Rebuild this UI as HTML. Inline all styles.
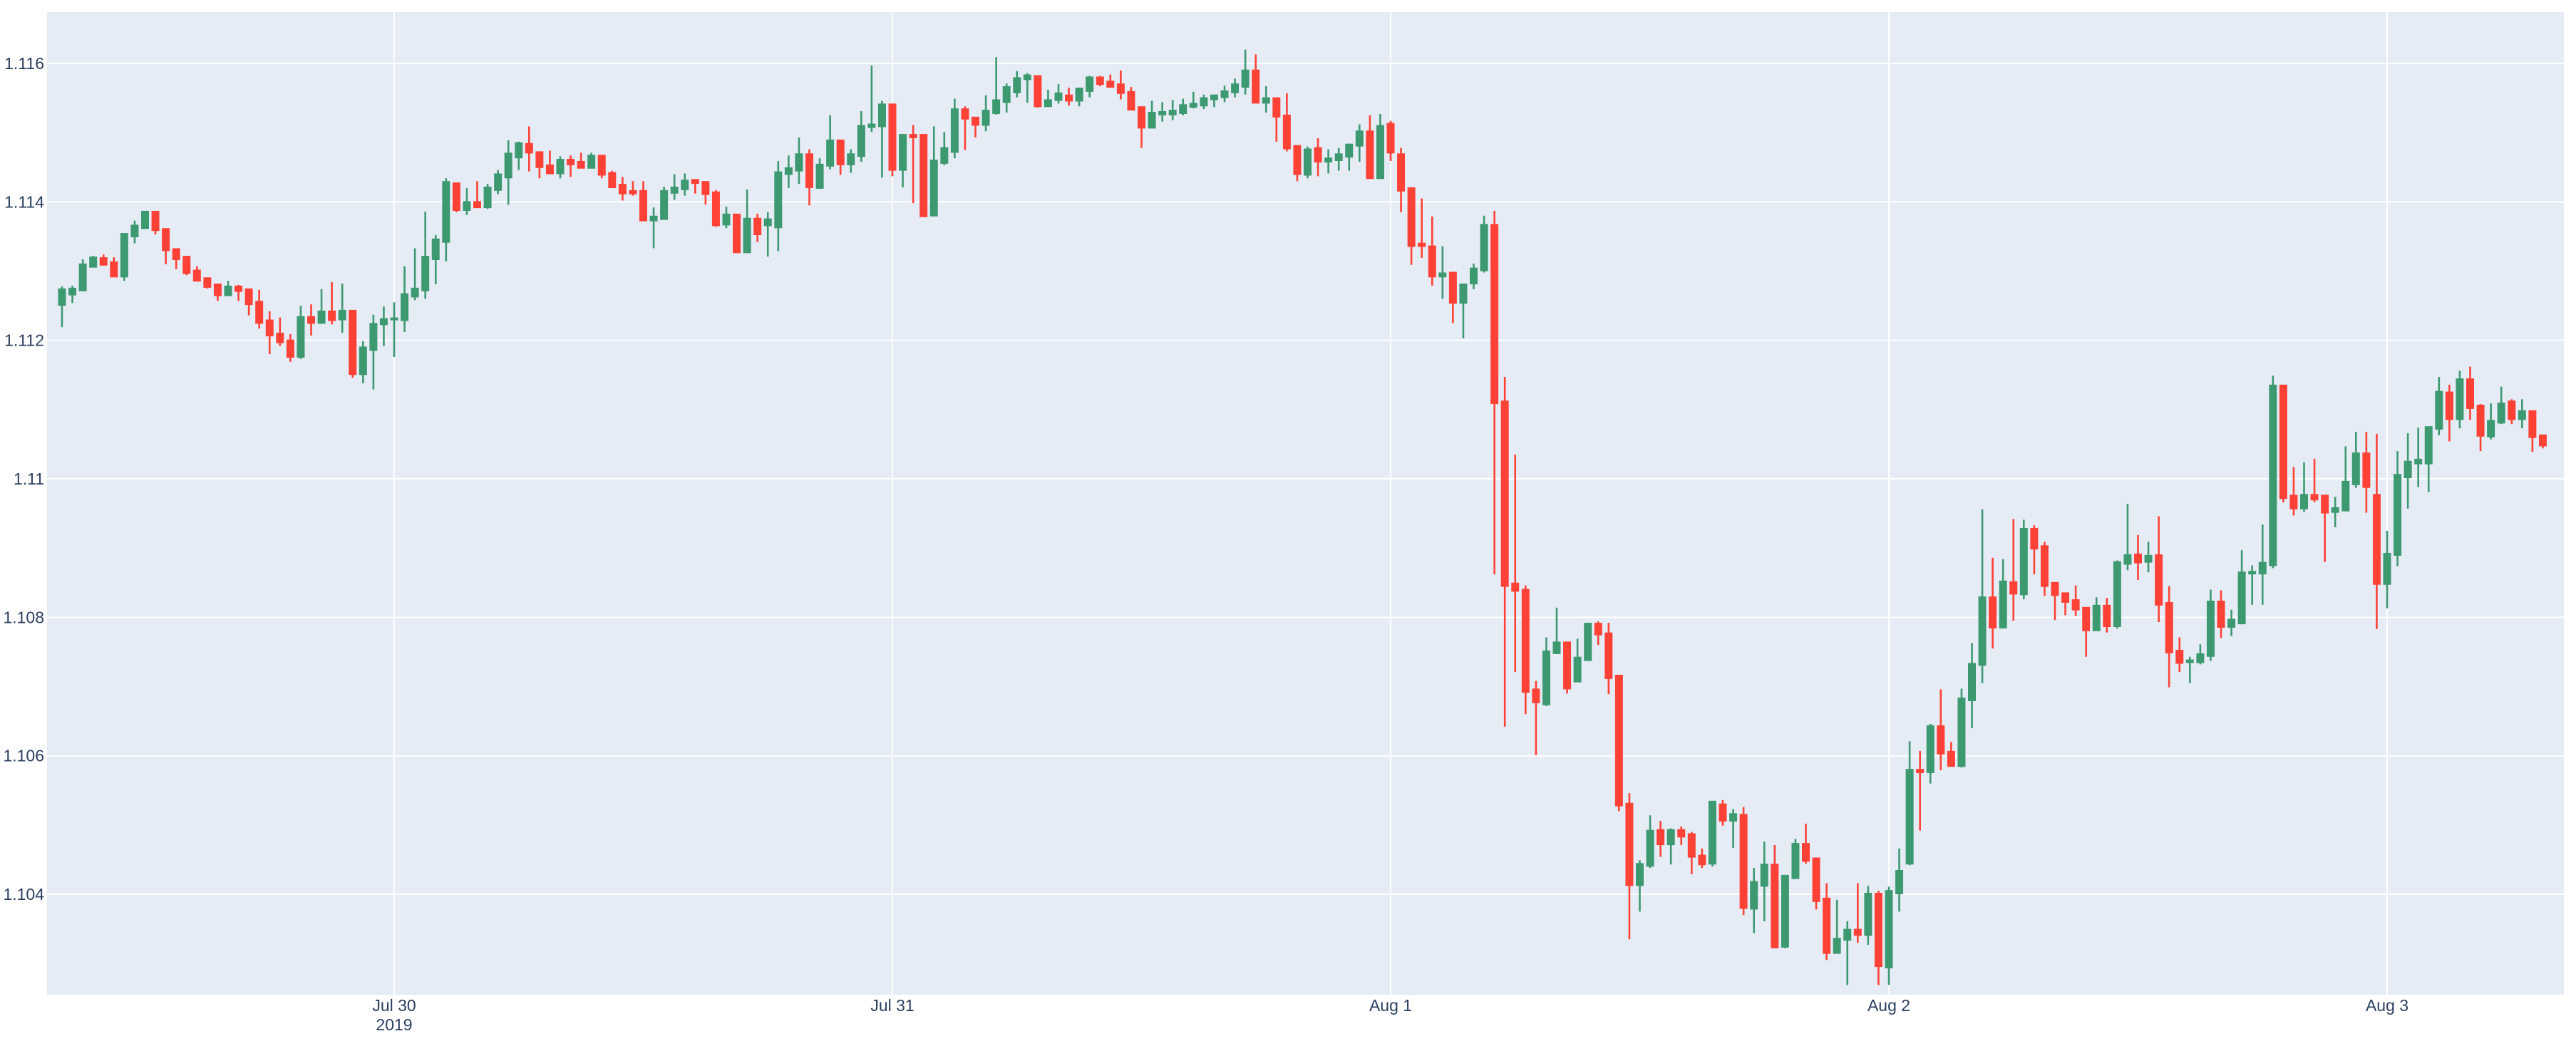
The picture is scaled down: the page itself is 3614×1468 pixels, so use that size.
<!DOCTYPE html>
<html>
<head>
<meta charset="utf-8">
<style>
  html, body { margin: 0; padding: 0; background: #ffffff; }
  svg { display: block; }
  text { font-family: "Liberation Sans", "DejaVu Sans", sans-serif; fill: #2a3f5f; }
</style>
</head>
<body>
<svg id="chart" width="3614" height="1468" viewBox="0 0 3614 1468" xmlns="http://www.w3.org/2000/svg">
  <rect x="66" y="17" width="3531" height="1379" fill="#E5ECF6"/>
  <g id="grid"></g>
  <g id="candles"></g>
  <g id="yaxis"></g>
  <g id="xaxis"></g>
</svg>
<script>
const startTime = Date.UTC(2019, 6, 29, 8, 0);
const stepMinutes = 30;
const openPrices = [
1.11251,1.11266,1.11272,1.11306,1.11319,1.11313,1.11292,1.11350,1.11362,1.11386,
1.11361,1.11332,1.11321,1.11301,1.11290,1.11281,1.11265,1.11278,1.11274,1.11256,
1.11229,1.11210,1.11200,1.11176,1.11234,1.11225,1.11242,1.11230,1.11243,1.11151,
1.11186,1.11223,1.11230,1.11229,1.11263,1.11272,1.11317,1.11342,1.11427,1.11388,
1.11400,1.11392,1.11417,1.11435,1.11464,1.11484,1.11472,1.11453,1.11441,1.11461,
1.11458,1.11449,1.11467,1.11442,1.11425,1.11416,1.11416,1.11373,1.11375,1.11413,
1.11418,1.11432,1.11429,1.11414,1.11367,1.11382,1.11327,1.11376,1.11366,1.11363,
1.11440,1.11445,1.11469,1.11420,1.11452,1.11489,1.11454,1.11466,1.11508,1.11509,
1.11541,1.11446,1.11497,1.11497,1.11380,1.11456,1.11472,1.11534,1.11522,1.11511,
1.11528,1.11544,1.11558,1.11577,1.11582,1.11538,1.11547,1.11554,1.11546,1.11560,
1.11580,1.11574,1.11570,1.11559,1.11537,1.11507,1.11526,1.11526,1.11528,1.11537,
1.11539,1.11548,1.11551,1.11558,1.11566,1.11590,1.11543,1.11550,1.11525,1.11481,
1.11439,1.11478,1.11458,1.11460,1.11465,1.11481,1.11502,1.11434,1.11513,1.11469,
1.11420,1.11340,1.11336,1.11292,1.11298,1.11254,1.11282,1.11301,1.11367,1.11112,
1.10849,1.10840,1.10696,1.10674,1.10748,1.10764,1.10707,1.10738,1.10791,1.10777,
1.10716,1.10531,1.10413,1.10441,1.10493,1.10472,1.10493,1.10487,1.10456,1.10444,
1.10530,1.10506,1.10515,1.10379,1.10412,1.10443,1.10324,1.10423,1.10473,1.10452,
1.10394,1.10315,1.10334,1.10349,1.10341,1.10401,1.10294,1.10401,1.10444,1.10580,
1.10576,1.10643,1.10606,1.10585,1.10680,1.10731,1.10829,1.10785,1.10851,1.10833,
1.10928,1.10903,1.10850,1.10835,1.10825,1.10814,1.10781,1.10817,1.10787,1.10877,
1.10891,1.10880,1.10890,1.10821,1.10752,1.10735,1.10735,1.10744,1.10823,1.10786,
1.10791,1.10863,1.10863,1.10875,1.11135,1.10976,1.10957,1.10977,1.10976,1.10952,
1.10954,1.10992,1.11037,1.10977,1.10848,1.10890,1.11002,1.11022,1.11022,1.11072,
1.11125,1.11086,1.11144,1.11106,1.11061,1.11081,1.11112,1.11086,1.11098,1.11063
];
const highPrices = [
1.11278,1.11279,1.11317,1.11322,1.11324,1.11320,1.11354,1.11373,1.11387,1.11387,
1.11361,1.11332,1.11322,1.11307,1.11290,1.11281,1.11286,1.11280,1.11274,1.11273,
1.11242,1.11233,1.11209,1.11250,1.11252,1.11274,1.11284,1.11282,1.11243,1.11199,
1.11237,1.11249,1.11255,1.11307,1.11333,1.11386,1.11352,1.11434,1.11428,1.11420,
1.11430,1.11426,1.11446,1.11489,1.11487,1.11509,1.11472,1.11474,1.11466,1.11467,
1.11471,1.11471,1.11467,1.11445,1.11436,1.11430,1.11430,1.11392,1.11422,1.11440,
1.11441,1.11432,1.11429,1.11417,1.11393,1.11382,1.11418,1.11383,1.11385,1.11459,
1.11467,1.11493,1.11476,1.11463,1.11525,1.11490,1.11476,1.11531,1.11597,1.11546,
1.11541,1.11497,1.11511,1.11498,1.11509,1.11501,1.11549,1.11538,1.11522,1.11554,
1.11609,1.11571,1.11589,1.11586,1.11582,1.11562,1.11570,1.11565,1.11564,1.11582,
1.11582,1.11584,1.11590,1.11566,1.11538,1.11546,1.11544,1.11547,1.11549,1.11559,
1.11555,1.11555,1.11568,1.11578,1.11620,1.11613,1.11567,1.11550,1.11557,1.11481,
1.11480,1.11492,1.11476,1.11478,1.11484,1.11512,1.11525,1.11527,1.11517,1.11478,
1.11420,1.11405,1.11379,1.11336,1.11298,1.11281,1.11311,1.11380,1.11387,1.11147,
1.11035,1.10846,1.10708,1.10771,1.10814,1.10764,1.10769,1.10791,1.10794,1.10792,
1.10717,1.10546,1.10449,1.10514,1.10506,1.10495,1.10498,1.10490,1.10466,1.10534,
1.10536,1.10523,1.10526,1.10438,1.10476,1.10471,1.10428,1.10480,1.10502,1.10453,
1.10416,1.10392,1.10361,1.10416,1.10412,1.10405,1.10411,1.10466,1.10621,1.10607,
1.10646,1.10696,1.10620,1.10697,1.10763,1.10956,1.10886,1.10884,1.10942,1.10941,
1.10933,1.10909,1.10850,1.10835,1.10846,1.10814,1.10829,1.10828,1.10882,1.10964,
1.10919,1.10909,1.10946,1.10845,1.10771,1.10743,1.10761,1.10840,1.10839,1.10811,
1.10897,1.10875,1.10934,1.11149,1.11135,1.11017,1.11024,1.11029,1.10977,1.10974,
1.11047,1.11068,1.11068,1.11065,1.10925,1.11040,1.11066,1.11074,1.11075,1.11147,
1.11136,1.11156,1.11162,1.11108,1.11109,1.11133,1.11115,1.11115,1.11098,1.11063
];
const lowPrices = [
1.11219,1.11254,1.11272,1.11306,1.11309,1.11292,1.11286,1.11340,1.11362,1.11353,
1.11310,1.11303,1.11294,1.11285,1.11275,1.11257,1.11265,1.11257,1.11236,1.11217,
1.11180,1.11192,1.11169,1.11173,1.11207,1.11225,1.11223,1.11211,1.11146,1.11138,
1.11129,1.11192,1.11176,1.11212,1.11258,1.11260,1.11281,1.11314,1.11385,1.11381,
1.11392,1.11390,1.11411,1.11396,1.11446,1.11444,1.11434,1.11441,1.11434,1.11436,
1.11449,1.11449,1.11434,1.11421,1.11402,1.11409,1.11373,1.11333,1.11375,1.11403,
1.11409,1.11412,1.11396,1.11364,1.11362,1.11327,1.11327,1.11342,1.11321,1.11329,
1.11420,1.11426,1.11395,1.11420,1.11447,1.11439,1.11442,1.11458,1.11501,1.11435,
1.11437,1.11421,1.11398,1.11379,1.11380,1.11453,1.11463,1.11475,1.11493,1.11502,
1.11526,1.11529,1.11551,1.11543,1.11536,1.11538,1.11542,1.11539,1.11538,1.11551,
1.11567,1.11566,1.11548,1.11533,1.11478,1.11507,1.11516,1.11518,1.11525,1.11535,
1.11534,1.11537,1.11544,1.11551,1.11555,1.11543,1.11529,1.11487,1.11473,1.11430,
1.11434,1.11437,1.11441,1.11445,1.11445,1.11458,1.11434,1.11434,1.11459,1.11385,
1.11309,1.11319,1.11279,1.11260,1.11225,1.11203,1.11274,1.11298,1.10862,1.10642,
1.10721,1.10660,1.10601,1.10672,1.10748,1.10690,1.10707,1.10738,1.10760,1.10689,
1.10520,1.10335,1.10375,1.10438,1.10454,1.10443,1.10471,1.10429,1.10438,1.10440,
1.10499,1.10467,1.10370,1.10344,1.10361,1.10323,1.10322,1.10423,1.10444,1.10378,
1.10305,1.10315,1.10269,1.10330,1.10327,1.10269,1.10269,1.10375,1.10442,1.10492,
1.10560,1.10579,1.10585,1.10583,1.10640,1.10705,1.10755,1.10785,1.10795,1.10826,
1.10862,1.10831,1.10796,1.10803,1.10802,1.10743,1.10781,1.10778,1.10784,1.10868,
1.10854,1.10865,1.10793,1.10699,1.10721,1.10705,1.10732,1.10737,1.10770,1.10773,
1.10790,1.10818,1.10818,1.10871,1.10966,1.10947,1.10952,1.10966,1.10880,1.10930,
1.10954,1.10987,1.10951,1.10783,1.10813,1.10874,1.10957,1.10988,1.10981,1.11063,
1.11054,1.11073,1.11085,1.11040,1.11057,1.11079,1.11079,1.11073,1.11039,1.11044
];
const closePrices = [
1.11274,1.11275,1.11310,1.11320,1.11309,1.11292,1.11354,1.11366,1.11386,1.11359,
1.11330,1.11317,1.11297,1.11286,1.11277,1.11265,1.11278,1.11271,1.11252,1.11225,
1.11207,1.11197,1.11176,1.11234,1.11225,1.11242,1.11229,1.11243,1.11151,1.11190,
1.11224,1.11231,1.11232,1.11267,1.11275,1.11321,1.11346,1.11429,1.11388,1.11400,
1.11392,1.11421,1.11440,1.11470,1.11485,1.11471,1.11450,1.11441,1.11461,1.11454,
1.11449,1.11467,1.11439,1.11421,1.11412,1.11412,1.11373,1.11379,1.11416,1.11421,
1.11431,1.11427,1.11411,1.11366,1.11382,1.11327,1.11376,1.11353,1.11375,1.11443,
1.11449,1.11469,1.11421,1.11454,1.11489,1.11454,1.11469,1.11510,1.11512,1.11541,
1.11446,1.11497,1.11493,1.11379,1.11460,1.11478,1.11534,1.11520,1.11511,1.11532,
1.11547,1.11566,1.11579,1.11583,1.11538,1.11547,1.11557,1.11546,1.11564,1.11580,
1.11570,1.11566,1.11557,1.11533,1.11507,1.11529,1.11530,1.11532,1.11540,1.11542,
1.11550,1.11554,1.11560,1.11570,1.11590,1.11543,1.11550,1.11523,1.11477,1.11440,
1.11476,1.11458,1.11463,1.11469,1.11483,1.11502,1.11434,1.11510,1.11471,1.11416,
1.11336,1.11336,1.11292,1.11297,1.11254,1.11281,1.11304,1.11367,1.11109,1.10845,
1.10838,1.10692,1.10677,1.10751,1.10764,1.10697,1.10742,1.10791,1.10775,1.10712,
1.10528,1.10413,1.10444,1.10492,1.10472,1.10493,1.10483,1.10454,1.10443,1.10534,
1.10506,1.10516,1.10380,1.10418,1.10443,1.10323,1.10427,1.10473,1.10448,1.10390,
1.10315,1.10336,1.10349,1.10341,1.10401,1.10296,1.10405,1.10434,1.10580,1.10576,
1.10643,1.10603,1.10585,1.10683,1.10733,1.10829,1.10785,1.10852,1.10834,1.10928,
1.10899,1.10845,1.10832,1.10822,1.10811,1.10781,1.10817,1.10787,1.10880,1.10890,
1.10879,1.10889,1.10818,1.10749,1.10734,1.10738,1.10747,1.10823,1.10786,1.10797,
1.10865,1.10866,1.10879,1.11135,1.10972,1.10957,1.10977,1.10970,1.10951,1.10958,
1.10996,1.11037,1.10988,1.10848,1.10892,1.11006,1.11025,1.11028,1.11075,1.11126,
1.11086,1.11144,1.11102,1.11062,1.11084,1.11109,1.11086,1.11098,1.11060,1.11048
];
const yTickValues = [1.104, 1.106, 1.108, 1.110, 1.112, 1.114, 1.116];
const yTickLabels = ["1.104", "1.106", "1.108", "1.11", "1.108".replace("1.108","1.112"), "1.114", "1.116"];
const xTickDates = [Date.UTC(2019,6,30), Date.UTC(2019,6,31), Date.UTC(2019,7,1), Date.UTC(2019,7,2), Date.UTC(2019,7,3)];
const xTickLabels = ["Jul 30", "Jul 31", "Aug 1", "Aug 2", "Aug 3"];

const NS = "http://www.w3.org/2000/svg";
const PLOT_L = 66, PLOT_R = 3597, PLOT_T = 17, PLOT_B = 1396;
const REF_T = Date.UTC(2019,6,30), REF_X = 553, PX_PER_MS = 699 / 86400000;
function xScale(t) { return REF_X + (t - REF_T) * PX_PER_MS; }
function yScale(p) { return 89 + (1.116 - p) * 97170; }
function mk(tag, attrs, parent) {
  const el = document.createElementNS(NS, tag);
  for (const k in attrs) el.setAttribute(k, attrs[k]);
  parent.appendChild(el);
  return el;
}

const grid = document.getElementById("grid");
const yaxis = document.getElementById("yaxis");
const xaxis = document.getElementById("xaxis");
const candles = document.getElementById("candles");

yTickValues.forEach((v, i) => {
  const y = yScale(v);
  const gl = mk("line", {x1: PLOT_L, x2: PLOT_R, y1: y, y2: y, stroke: "#ffffff", "stroke-width": 2}, grid);
  
  
  const t = mk("text", {x: 62, y: y + 8, "text-anchor": "end", "font-size": 23}, yaxis);
  t.textContent = yTickLabels[i];
  
  
});

xTickDates.forEach((d, i) => {
  const x = xScale(d);
  const gl = mk("line", {x1: x, x2: x, y1: PLOT_T, y2: PLOT_B, stroke: "#ffffff", "stroke-width": 2}, grid);
  
  
  const t = mk("text", {x: x, y: 1419, "text-anchor": "middle", "font-size": 23}, xaxis);
  t.textContent = xTickLabels[i];
  
  
  if (i === 0) {
    const yr = mk("text", {x: x, y: 1446, "text-anchor": "middle", "font-size": 23}, xaxis);
    yr.textContent = "2019";
    
    
  }
});

const BODY_W = 9;
openPrices.forEach((o, i) => {
  const c = closePrices[i], h = highPrices[i], l = lowPrices[i];
  const t = startTime + i * stepMinutes * 60000;
  const x = xScale(t);
  const up = c >= o;
  const col = up ? "#3D9970" : "#FF4136";
  const g = mk("g", {}, candles);
  
  
  mk("line", {x1: x, x2: x, y1: yScale(h), y2: yScale(l), stroke: col, "stroke-width": 2.6}, g);
  const top = yScale(Math.max(o, c)), bot = yScale(Math.min(o, c));
  mk("rect", {x: x - BODY_W / 2, y: top, width: BODY_W, height: Math.max(bot - top, 0.5), fill: col, stroke: col, "stroke-width": 2}, g);
});
</script>
</body>
</html>
